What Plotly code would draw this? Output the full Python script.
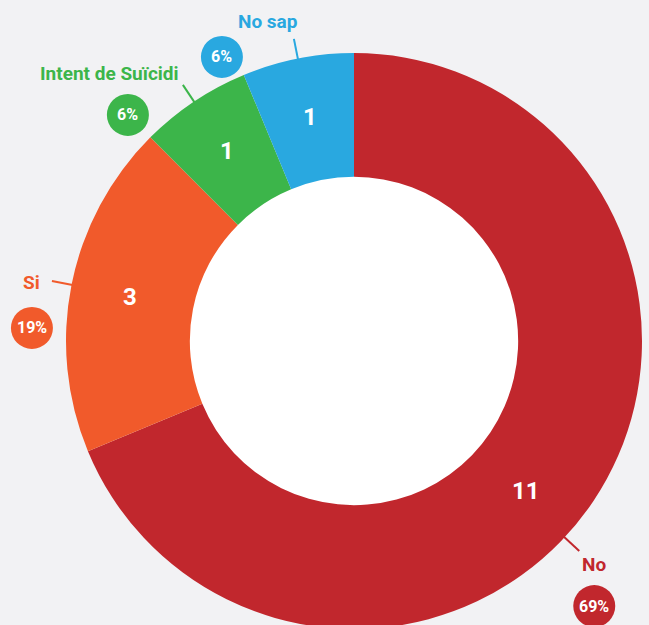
import math
import plotly.graph_objects as go

# Survey answers and their counts
labels = ["No", "Si", "Intent de Suïcidi", "No sap"]
counts = [11, 3, 1, 1]

slice_colors = ["#c1272d", "#f15a2b", "#3cb54a", "#29a8e0"]
BG = "#f2f2f4"
FONT = "Roboto, Liberation Sans, sans-serif"

# Figure geometry (pixels): ring centre, outer radius, hole fraction
W, H = 649, 682
CX, CY, R = 354, 341, 288
HOLE = 0.57
R_IN = R * HOLE
R_MID = (R + R_IN) / 2

total = sum(counts)
pcts = [round(100 * c / total) for c in counts]

# Mid-angle of every slice, clockwise from 12 o'clock
mids = []
acc = 0
for c in counts:
    mids.append(360 * (acc + c / 2) / total)
    acc += c
# the large slice carries its labels lower down so they stay in view
text_angle = {"No": 131}
line_angle = {"No": 133}

# label / badge offsets from the end of each leader line
label_off = {"No": (15, 13), "Si": (-20, 2), "Intent de Suïcidi": (-73, -11), "No sap": (-26, -17)}
badge_off = {"No": (15, 55), "Si": (-20, 47), "Intent de Suïcidi": (-55, 30), "No sap": (-72, 18)}
BADGE_R = 21


def px(x, y):
    return x / W, 1 - y / H


def polar(r, ang):
    a = math.radians(ang)
    return CX + r * math.sin(a), CY - r * math.cos(a)


fig = go.Figure(
    go.Pie(
        labels=labels,
        values=counts,
        marker=dict(colors=slice_colors, line=dict(width=0)),
        hole=HOLE,
        sort=False,
        direction="clockwise",
        rotation=0,
        textinfo="none",
        hoverinfo="label+value+percent",
        showlegend=False,
        domain=dict(x=[(CX - R) / W, (CX + R) / W], y=[0, 1]),
    )
)

shapes = []
annotations = []

# white centre disc
x0, y0 = px(CX - R_IN - 1, CY + R_IN + 1)
x1, y1 = px(CX + R_IN + 1, CY - R_IN - 1)
shapes.append(dict(type="circle", xref="paper", yref="paper", x0=x0, y0=y0, x1=x1, y1=y1,
                   fillcolor="white", line=dict(width=0), layer="below"))

for lab, cnt, pct, col, mid in zip(labels, counts, pcts, slice_colors, mids):
    # value inside the ring
    tx, ty = polar(R_MID + 2, text_angle.get(lab, mid))
    ax, ay = px(tx, ty)
    annotations.append(dict(x=ax, y=ay, xref="paper", yref="paper", text=f"<b>{cnt}</b>",
                            showarrow=False, font=dict(family=FONT, size=24, color="white"),
                            xanchor="center", yanchor="middle"))

    # leader line
    la = line_angle.get(lab, mid)
    sx, sy = polar(R - 1, la)
    ex, ey = polar(R + 20, la)
    p0 = px(sx, sy)
    p1 = px(ex, ey)
    shapes.append(dict(type="line", xref="paper", yref="paper", x0=p0[0], y0=p0[1],
                       x1=p1[0], y1=p1[1], line=dict(color=col, width=2)))

    # category name
    lx, ly = ex + label_off[lab][0], ey + label_off[lab][1]
    qx, qy = px(lx, ly)
    annotations.append(dict(x=qx, y=qy, xref="paper", yref="paper", text=f"<b>{lab}</b>",
                            showarrow=False, font=dict(family=FONT, size=19, color=col),
                            xanchor="center", yanchor="middle"))

    # percentage badge
    bx, by = ex + badge_off[lab][0], ey + badge_off[lab][1]
    c0 = px(bx - BADGE_R, by + BADGE_R)
    c1 = px(bx + BADGE_R, by - BADGE_R)
    shapes.append(dict(type="circle", xref="paper", yref="paper", x0=c0[0], y0=c0[1],
                       x1=c1[0], y1=c1[1], fillcolor=col, line=dict(width=0)))
    bxp, byp = px(bx, by)
    annotations.append(dict(x=bxp, y=byp, xref="paper", yref="paper", text=f"<b>{pct}%</b>",
                            showarrow=False, font=dict(family=FONT, size=16, color="white"),
                            xanchor="center", yanchor="middle"))

fig.update_layout(
    width=W,
    height=H,
    margin=dict(l=0, r=0, t=0, b=0),
    paper_bgcolor=BG,
    plot_bgcolor=BG,
    shapes=shapes,
    annotations=annotations,
)

fig.write_html(
    "out.html",
    post_script="document.body.style.margin='0';document.body.style.overflow='hidden';"
                "document.documentElement.style.overflow='hidden';",
)
